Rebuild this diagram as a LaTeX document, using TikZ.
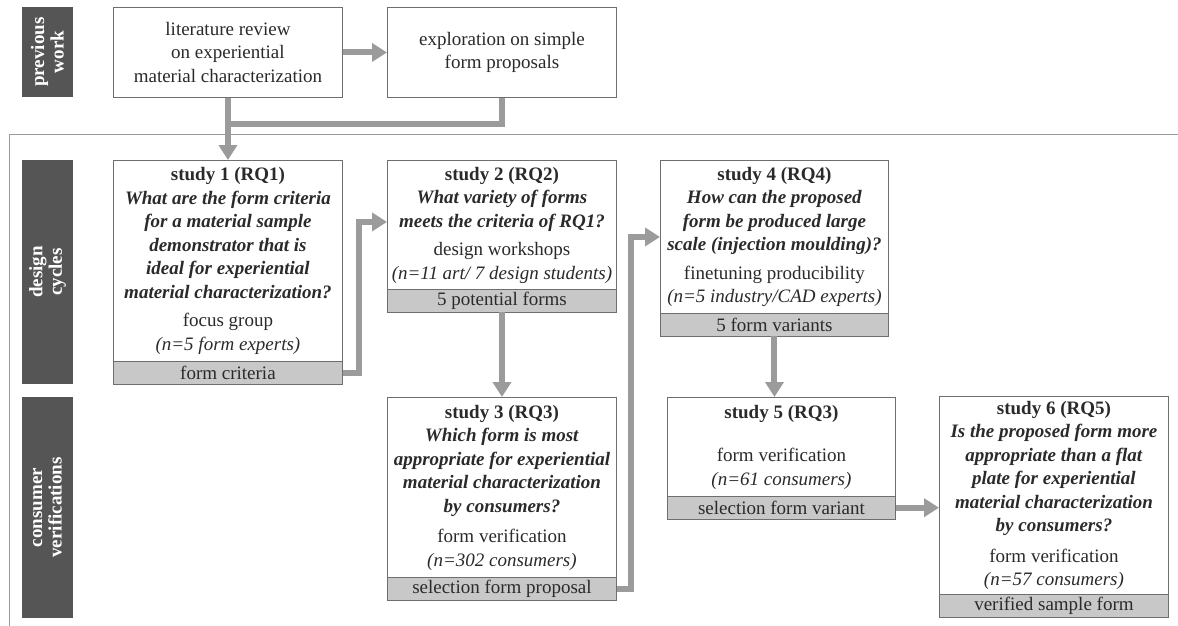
\documentclass[tikz,border=0pt]{standalone}
\usepackage{fontspec}
\setmainfont{Liberation Serif}
\usetikzlibrary{arrows.meta,calc}
\definecolor{labfill}{HTML}{555555}
\definecolor{boxline}{HTML}{6E6E6E}
\definecolor{barfill}{HTML}{C8C8C8}
\definecolor{arrowc}{HTML}{9B9B9B}
\definecolor{framec}{HTML}{9A9A9A}
\definecolor{txt}{HTML}{2A2A2A}
\begin{document}
\begin{tikzpicture}[x=1pt,y=-1pt,
  every node/.style={font=\fontsize{19}{23.5}\selectfont, text=txt},
  lab/.style={fill=labfill, rotate=90, text=white, inner sep=0, align=center,
    font=\fontsize{19}{19.5}\selectfont\bfseries},
  box/.style={draw=boxline, line width=0.9pt, fill=white, anchor=north west,
    inner sep=0, align=center},
  bar/.style={draw=boxline, line width=0.9pt, fill=barfill, anchor=north west,
    inner sep=0, align=center, minimum height=22.5},
  arr/.style={draw=arrowc, line width=6pt, -{Triangle[width=18pt,length=15pt]}},
  conn/.style={draw=arrowc, line width=6pt}]
\useasboundingbox (0,0) rectangle (1178,626);
% frame
\draw[framec, line width=0.9pt] (1178,134) -- (9,134) -- (9,626);
% row labels
\node[lab, minimum width=90, minimum height=51] (lpw) at (47.5,52) {previous\\work};
\node[lab, minimum width=224, minimum height=51] (ldc) at (47.5,272) {design\\cycles};
\node[lab, minimum width=221, minimum height=51] (lcv) at (47.5,507.5) {consumer\\verifications};
% previous work
\node[box, minimum width=229, minimum height=90] (lit) at (113,7)
  {literature review\\on experiential\\material characterization};
\node[box, minimum width=229, minimum height=90] (expl) at (387,7)
  {exploration on simple\\form proposals};
% study 1
\node[box, minimum width=229, minimum height=201] (s1) at (113,160)
  {\textbf{study 1 (RQ1)}\\
   \textbf{\textit{What are the form criteria}}\\
   \textbf{\textit{for a material sample}}\\
   \textbf{\textit{demonstrator that is}}\\
   \textbf{\textit{ideal for experiential}}\\
   \textbf{\textit{material characterization?}}\\[5pt]
   focus group\\
   \textit{(n=5 form experts)}};
\node[bar, minimum width=229] (r1) at (113,361) {form criteria};
% study 2
\node[box, minimum width=229, minimum height=129] (s2) at (387,160)
  {\textbf{study 2 (RQ2)}\\
   \textbf{\textit{What variety of forms}}\\
   \textbf{\textit{meets the criteria of RQ1?}}\\[5pt]
   design workshops\\
   \textit{(n=11 art/ 7 design students)}};
\node[bar, minimum width=229] (r2) at (387,289) {5 potential forms};
% study 3
\node[box, minimum width=229, minimum height=180] (s3) at (387,397)
  {\textbf{study 3 (RQ3)}\\
   \textbf{\textit{Which form is most}}\\
   \textbf{\textit{appropriate for experiential}}\\
   \textbf{\textit{material characterization}}\\
   \textbf{\textit{by consumers?}}\\[7pt]
   form verification\\
   \textit{(n=302 consumers)}};
\node[bar, minimum width=229] (r3) at (387,577) {selection form proposal};
% study 4
\node[box, minimum width=228, minimum height=153] (s4) at (660,160)
  {\textbf{study 4 (RQ4)}\\
   \textbf{\textit{How can the proposed}}\\
   \textbf{\textit{form be produced large}}\\
   \textbf{\textit{scale (injection moulding)?}}\\[5pt]
   finetuning producibility\\
   \textit{(n=5 industry/CAD experts)}};
\node[bar, minimum width=228] (r4) at (660,313) {5 form variants};
% study 5
\node[box, minimum width=228, minimum height=99] (s5) at (667,397)
  {\textbf{study 5 (RQ3)}\\[20pt]
   form verification\\
   \textit{(n=61 consumers)}};
\node[bar, minimum width=228] (r5) at (667,496) {selection form variant};
% study 6
\node[box, minimum width=229, minimum height=198] (s6) at (939,396)
  {\textbf{study 6 (RQ5)}\\
   \textbf{\textit{Is the proposed form more}}\\
   \textbf{\textit{appropriate than a flat}}\\
   \textbf{\textit{plate for experiential}}\\
   \textbf{\textit{material characterization}}\\
   \textbf{\textit{by consumers?}}\\[7pt]
   form verification\\
   \textit{(n=57 consumers)}};
\node[bar, minimum width=229] (r6) at (939,594) {verified sample form};
% connectors
\coordinate (j) at ($(lit.south)+(0,26)$);
\draw[arr] (lit.east) -- (expl.west);
\draw[conn] (expl.south) |- (j);
\draw[arr] (lit.south) -- (s1.north);
\draw[arr] (r1.east) -- ++(16,0) |- ($(s2.west)+(0,-3)$);
\draw[arr] (r2.south) -- (s3.north);
\draw[arr] (r3.east) -- ++(14,0) |- (s4.west);
\draw[arr] (r4.south) -- (r4.south |- s5.north);
\draw[arr] (r5.east) -- (r5.east -| s6.west);
\end{tikzpicture}
\end{document}
